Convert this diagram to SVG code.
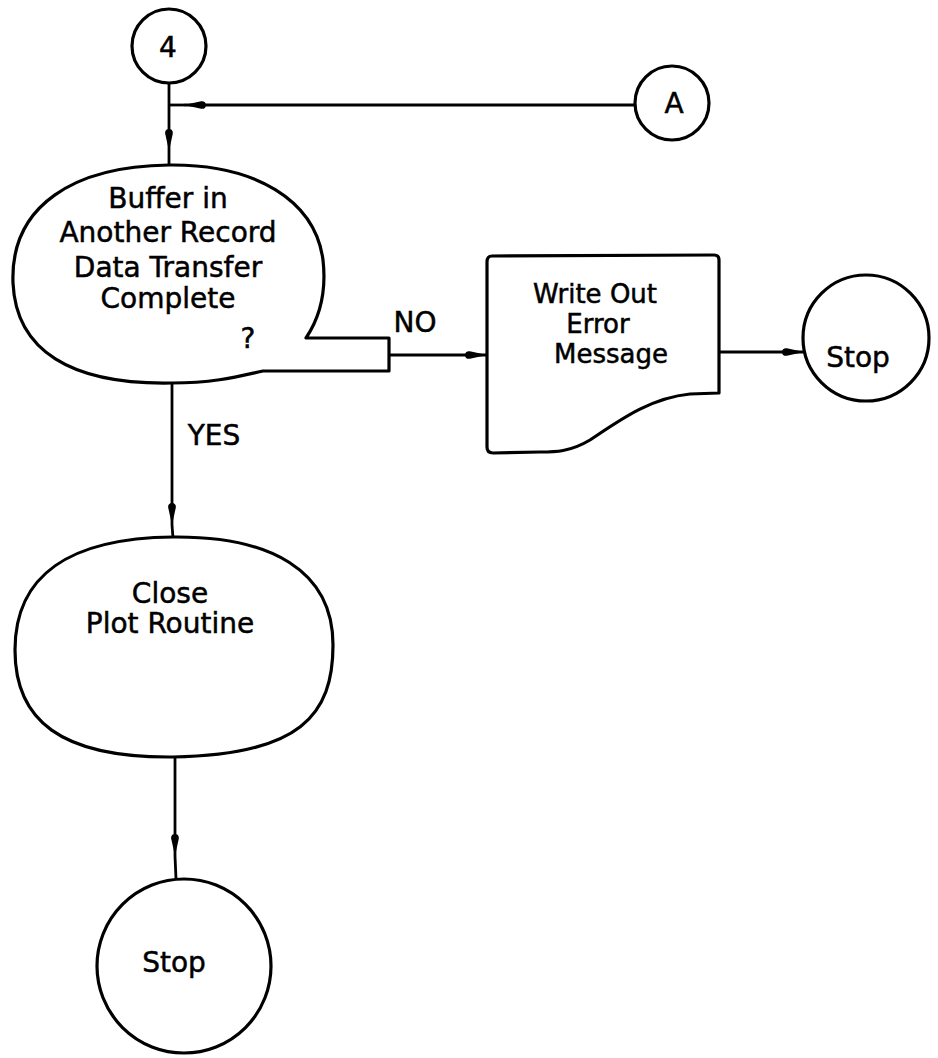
<svg xmlns="http://www.w3.org/2000/svg" width="938" height="1058" viewBox="0 0 938 1058">
<defs>
<style>
.n{fill:#fff;stroke:#000;stroke-width:3.2;stroke-linejoin:round}
.c{fill:none;stroke:#000;stroke-width:2.8}
text{font-family:"DejaVu Sans","Liberation Sans",sans-serif;font-size:28px;fill:#000;stroke:#000;stroke-width:0.5;text-anchor:middle}
.b{font-size:26px}
</style>
<marker id="ah" viewBox="0 0 22 10" refX="22" refY="5" markerWidth="22" markerHeight="10" markerUnits="userSpaceOnUse" orient="auto">
<path d="M0,5 C0,1.5 3,0.5 6,1.5 L22,5 L6,8.5 C3,9.5 0,8.5 0,5 Z" fill="#000"/>
</marker>
</defs>
<rect width="938" height="1058" fill="#fff"/>
<g id="connectors">
<path class="c" d="M169,83 L169,151" marker-end="url(#ah)"/>
<path class="c" d="M169,151 L169,166"/>
<path class="c" d="M635,105 L184,105" marker-end="url(#ah)"/>
<path class="c" d="M184,105 L169,105"/>
<path class="c" d="M389,355 L487,355" marker-end="url(#ah)"/>
<path class="c" d="M719,352 L804,352" marker-end="url(#ah)"/>
<path class="c" d="M172,383 L172,525" marker-end="url(#ah)"/>
<path class="c" d="M172,525 L173,538"/>
<path class="c" d="M175,757 L175,856" marker-end="url(#ah)"/>
<path class="c" d="M175,856 L176,879"/>
<text x="415" y="332">NO</text>
<text x="214" y="445">YES</text>
</g>
<g id="n4">
<circle class="n" cx="169" cy="46" r="37"/>
<text x="168" y="57">4</text>
</g>
<g id="nA">
<circle class="n" cx="672" cy="103" r="37"/>
<text x="674" y="113">A</text>
</g>
<g id="decision">
<path class="n" d="M169,165 C255,164 315,200 323,260 C327,295 318,320 306,338 L389,338 L389,371 L263,371 C240,376 215,383 172,383 C70,385 16,350 13,283 C10,205 75,166 169,165 Z"/>
<text x="168" y="208">Buffer in</text>
<text x="168" y="242">Another Record</text>
<text x="168" y="277">Data Transfer</text>
<text x="168" y="308">Complete</text>
<text x="248" y="348">?</text>
</g>
<g id="write">
<path class="n" d="M492,256 L714,255 Q719,255 719,260 L719,393 L690,394 C650,398 620,420 590,440 C570,452 555,452 540,452 L493,453 Q487,453 487,447 L487,262 Q487,256 492,256 Z"/>
<text class="b" x="595" y="303">Write Out</text>
<text class="b" x="598" y="333">Error</text>
<text class="b" x="611" y="363">Message</text>
</g>
<g id="stop1">
<circle class="n" cx="866" cy="338" r="63"/>
<text x="858" y="367">Stop</text>
</g>
<g id="close">
<path class="n" d="M173,537 C270,536 333,570 333,645 C333,715 300,755 173,757 C60,758 15,720 15,650 C15,575 70,538 173,537 Z"/>
<text x="170" y="603">Close</text>
<text x="170" y="633">Plot Routine</text>
</g>
<g id="stop2">
<circle class="n" cx="184" cy="966" r="87"/>
<text x="174" y="972">Stop</text>
</g>
</svg>
